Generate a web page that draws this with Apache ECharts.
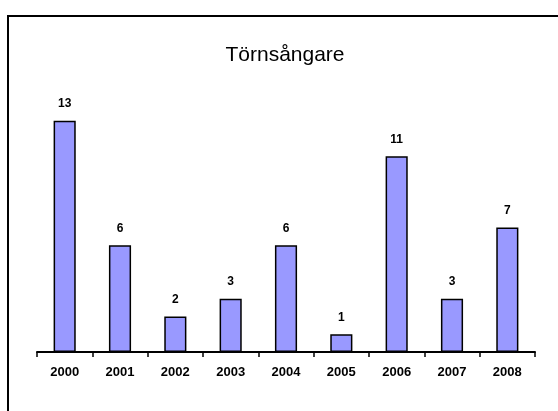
<!DOCTYPE html>
<html>
<head>
<meta charset="utf-8">
<script src="https://cdn.jsdelivr.net/npm/echarts@6/dist/echarts.min.js"></script>
<style>html,body{margin:0;padding:0;background:#fff;}#c{width:558px;height:411px;}</style>
</head>
<body>
<div id="c"></div>
<script>
var years = ['2000','2001','2002','2003','2004','2005','2006','2007','2008'];
var counts = [13, 6, 2, 3, 6, 1, 11, 3, 7];
var titleText = 'Törnsångare';

var chart = echarts.init(document.getElementById('c'), null, {renderer: 'canvas'});
chart.setOption({
  backgroundColor: '#ffffff',
  animation: false,
  title: {
    text: titleText,
    left: 280,
    top: 40,
    textAlign: 'center',
    textStyle: {fontFamily: 'Liberation Sans, Arial, sans-serif', fontSize: 21, fontWeight: 'normal', color: '#000'}
  },
  graphic: [{
    type: 'rect',
    shape: {x: 8, y: 16, width: 600, height: 500},
    style: {fill: 'none', stroke: '#000', lineWidth: 2},
    silent: true
  }],
  grid: {left: 37, right: 23, top: 103, bottom: 59},
  xAxis: {
    type: 'category',
    data: years,
    boundaryGap: true,
    axisLine: {lineStyle: {color: '#000', width: 2}},
    axisTick: {show: true, length: 5, lineStyle: {color: '#000', width: 1.5}},
    axisLabel: {margin: 14, color: '#000', fontFamily: 'Liberation Sans, Arial, sans-serif', fontSize: 13, fontWeight: 'bold'}
  },
  yAxis: {
    type: 'value',
    min: 0,
    max: 14,
    show: false,
    splitLine: {show: false}
  },
  series: [{
    type: 'bar',
    data: counts,
    barWidth: '40%',
    itemStyle: {color: '#9999ff', borderColor: '#000', borderWidth: 1.5},
    label: {
      show: true,
      position: 'top',
      distance: 11,
      color: '#000',
      fontFamily: 'Liberation Sans, Arial, sans-serif',
      fontSize: 12,
      fontWeight: 'bold'
    }
  }]
});
</script>
</body>
</html>
